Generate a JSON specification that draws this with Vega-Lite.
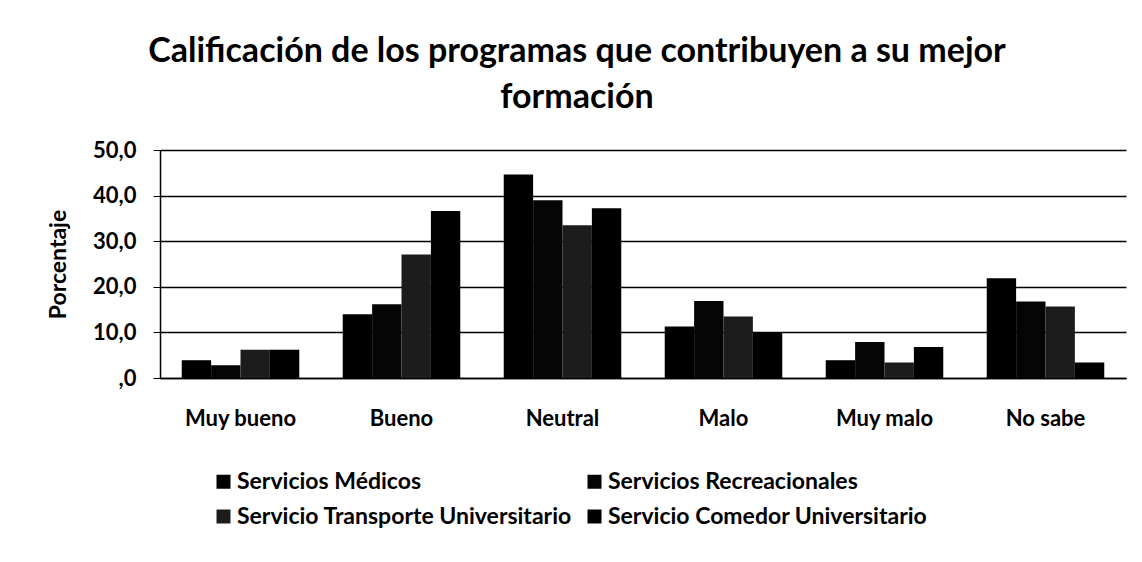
{
  "$schema": "https://vega.github.io/schema/vega-lite/v6.json",
  "width": 966,
  "height": 228,
  "autosize": "none",
  "padding": {"left": 160, "top": 150, "right": 16, "bottom": 184},
  "background": "white",
  "title": {
    "text": ["Calificación de los programas que contribuyen a su mejor", "formación"],
    "font": "Lato",
    "fontSize": 34,
    "fontWeight": "bold",
    "color": "black",
    "anchor": "middle",
    "dx": -66,
    "offset": 24,
    "lineHeight": 46
  },
  "data": {
    "values": [
      {"calificacion": "Muy bueno", "servicio": "Servicios Médicos", "porcentaje": 3.9},
      {"calificacion": "Muy bueno", "servicio": "Servicios Recreacionales", "porcentaje": 2.8},
      {"calificacion": "Muy bueno", "servicio": "Servicio Transporte Universitario", "porcentaje": 6.2},
      {"calificacion": "Muy bueno", "servicio": "Servicio Comedor Universitario", "porcentaje": 6.2},
      {"calificacion": "Bueno", "servicio": "Servicios Médicos", "porcentaje": 14.0},
      {"calificacion": "Bueno", "servicio": "Servicios Recreacionales", "porcentaje": 16.2},
      {"calificacion": "Bueno", "servicio": "Servicio Transporte Universitario", "porcentaje": 27.1},
      {"calificacion": "Bueno", "servicio": "Servicio Comedor Universitario", "porcentaje": 36.6},
      {"calificacion": "Neutral", "servicio": "Servicios Médicos", "porcentaje": 44.6},
      {"calificacion": "Neutral", "servicio": "Servicios Recreacionales", "porcentaje": 39.0},
      {"calificacion": "Neutral", "servicio": "Servicio Transporte Universitario", "porcentaje": 33.5},
      {"calificacion": "Neutral", "servicio": "Servicio Comedor Universitario", "porcentaje": 37.2},
      {"calificacion": "Malo", "servicio": "Servicios Médicos", "porcentaje": 11.3},
      {"calificacion": "Malo", "servicio": "Servicios Recreacionales", "porcentaje": 16.9},
      {"calificacion": "Malo", "servicio": "Servicio Transporte Universitario", "porcentaje": 13.5},
      {"calificacion": "Malo", "servicio": "Servicio Comedor Universitario", "porcentaje": 10.1},
      {"calificacion": "Muy malo", "servicio": "Servicios Médicos", "porcentaje": 3.9},
      {"calificacion": "Muy malo", "servicio": "Servicios Recreacionales", "porcentaje": 7.9},
      {"calificacion": "Muy malo", "servicio": "Servicio Transporte Universitario", "porcentaje": 3.4},
      {"calificacion": "Muy malo", "servicio": "Servicio Comedor Universitario", "porcentaje": 6.8},
      {"calificacion": "No sabe", "servicio": "Servicios Médicos", "porcentaje": 21.9},
      {"calificacion": "No sabe", "servicio": "Servicios Recreacionales", "porcentaje": 16.8},
      {"calificacion": "No sabe", "servicio": "Servicio Transporte Universitario", "porcentaje": 15.7},
      {"calificacion": "No sabe", "servicio": "Servicio Comedor Universitario", "porcentaje": 3.4}
    ]
  },
  "mark": {"type": "bar"},
  "encoding": {
    "x": {
      "field": "calificacion",
      "type": "nominal",
      "sort": ["Muy bueno", "Bueno", "Neutral", "Malo", "Muy malo", "No sabe"],
      "scale": {"paddingInner": 0.27, "paddingOuter": 0.135},
      "axis": {
        "title": null,
        "labelAngle": 0,
        "ticks": false,
        "domainColor": "black",
        "domainWidth": 1.5,
        "labelFont": "Lato",
        "labelFontSize": 22,
        "labelFontWeight": "bold",
        "labelColor": "black",
        "labelPadding": 30
      }
    },
    "xOffset": {
      "field": "servicio",
      "sort": ["Servicios Médicos", "Servicios Recreacionales", "Servicio Transporte Universitario", "Servicio Comedor Universitario"],
      "scale": {"paddingInner": 0, "paddingOuter": 0}
    },
    "y": {
      "field": "porcentaje",
      "type": "quantitative",
      "scale": {"domain": [0, 50], "nice": false},
      "axis": {
        "values": [0, 10, 20, 30, 40, 50],
        "labelExpr": "datum.value == 0 ? ',0' : replace(format(datum.value, '.1f'), '.', ',')",
        "title": "Porcentaje",
        "titleFont": "Lato",
        "titleFontSize": 23,
        "titleFontWeight": "bold",
        "titleColor": "black",
        "titlePadding": 22,
        "domainColor": "black",
        "domainWidth": 1.5,
        "tickColor": "black",
        "tickSize": 7,
        "gridColor": "black",
        "gridWidth": 1.3,
        "labelFont": "Lato",
        "labelFontSize": 22,
        "labelFontWeight": "bold",
        "labelColor": "black",
        "labelPadding": 17
      }
    },
    "color": {
      "field": "servicio",
      "type": "nominal",
      "sort": ["Servicios Médicos", "Servicios Recreacionales", "Servicio Transporte Universitario", "Servicio Comedor Universitario"],
      "scale": {
        "domain": ["Servicios Médicos", "Servicios Recreacionales", "Servicio Transporte Universitario", "Servicio Comedor Universitario"],
        "range": ["#000000", "#050505", "#1c1c1c", "#000000"]
      },
      "legend": {
        "title": null,
        "orient": "none",
        "legendX": 52,
        "legendY": 320,
        "columns": 2,
        "direction": "horizontal",
        "symbolType": "square",
        "symbolSize": 196,
        "symbolStrokeWidth": 0,
        "labelFont": "Lato",
        "labelFontSize": 23,
        "labelFontWeight": "bold",
        "labelColor": "black",
        "labelLimit": 600,
        "labelOffset": 2,
        "rowPadding": 11,
        "columnPadding": 11,
        "padding": 0
      }
    }
  },
  "config": {"view": {"stroke": null}}
}
